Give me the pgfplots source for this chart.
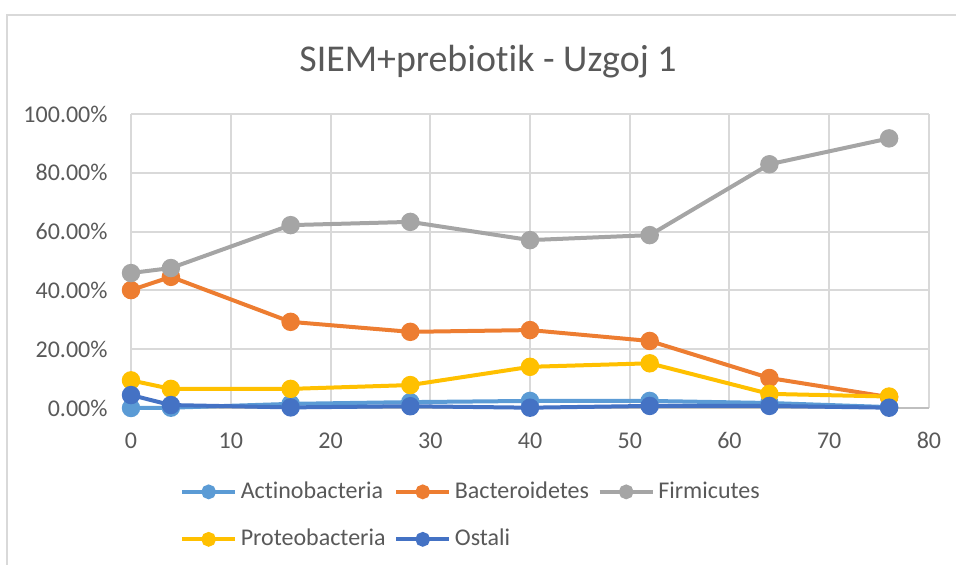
\documentclass[border=0pt]{standalone}
\usepackage{pgfplots}
\usepackage{pgfplotstable}
\pgfplotsset{compat=1.18}
\usepackage{fontspec}
\setmainfont{Carlito}[Ligatures={NoCommon,NoRare,NoDiscretionary}]
\definecolor{actc}{HTML}{5B9BD5}
\definecolor{bacc}{HTML}{ED7D31}
\definecolor{firc}{HTML}{A5A5A5}
\definecolor{proc}{HTML}{FFC000}
\definecolor{ostc}{HTML}{4472C4}
\definecolor{txt}{HTML}{595959}
\definecolor{gridc}{HTML}{D9D9D9}
\definecolor{axc}{HTML}{BFBFBF}

\pgfplotstableread{
x   act  bac   fir   pro   ost
0   0.0  40.1  45.9  9.4   4.4
4   0.1  44.6  47.6  6.5   1.0
16  1.4  29.3  62.2  6.5   0.2
28  2.0  25.9  63.3  7.8   0.6
40  2.4  26.5  57.1  14.0  0.1
52  2.4  22.8  58.8  15.2  0.7
64  1.7  10.2  82.9  4.8   0.7
76  0.3  3.7   91.7  3.9   0.1
}\datatable

\begin{document}
\begin{tikzpicture}
\path[use as bounding box] (0,0) rectangle (358.5pt,211.875pt);
\draw[gridc, line width=0.75pt] (2.625pt,-2pt) -- (2.625pt,206.25pt) -- (362pt,206.25pt);
\node[text=txt, font=\fontsize{14.2}{17}\selectfont] at (183pt,188.625pt) {SIEM+prebiotik - Uzgoj 1};
\begin{axis}[
  at={(49.125pt,58.875pt)}, anchor=south west,
  scale only axis, width=299.25pt, height=110.25pt,
  xmin=0, xmax=80, ymin=0, ymax=100,
  clip=false,
  xtick={0,10,...,80}, ytick={0,20,...,100},
  xticklabels={0,10,20,30,40,50,60,70,80},
  yticklabels={0.00\%,20.00\%,40.00\%,60.00\%,80.00\%,100.00\%},
  major tick length=0pt,
  grid=major,
  major grid style={gridc, line width=0.75pt},
  axis x line*=bottom, axis y line*=left,
  x axis line style={axc, line width=0.75pt, -},
  y axis line style={draw=none},
  tick label style={text=txt, font=\fontsize{9}{11}\selectfont, inner sep=0pt},
  yticklabel style={anchor=east, xshift=-8.6pt},
  xticklabel style={anchor=north, yshift=-9pt},
  every axis plot/.append style={line width=1.5pt, mark=*, mark size=2.7pt},
  legend columns=3,
  legend style={at={(0.0614,-0.366)}, anchor=west, draw=none, fill=none,
    font=\fontsize{9}{11}\selectfont, text=txt,
    inner sep=0pt, outer sep=0pt, row sep=8.8pt,
    nodes={inner xsep=0pt, inner ysep=0pt, text height=7pt, text depth=2pt},
    /tikz/every odd column/.append style={column sep=1.3pt},
    /tikz/every even column/.append style={column sep=3.2pt}},
  legend cell align=left,
  legend image code/.code={\draw[mark repeat=2, mark phase=2, #1, mark size=2pt] plot coordinates {(0pt,0pt) (10pt,0pt) (20pt,0pt)};},
]
\addplot[actc, mark options={fill=actc, draw=actc}] table[x=x, y=act] {\datatable};
\addlegendentry{Actinobacteria}
\addplot[bacc, mark options={fill=bacc, draw=bacc}] table[x=x, y=bac] {\datatable};
\addlegendentry{Bacteroidetes}
\addplot[firc, mark options={fill=firc, draw=firc}] table[x=x, y=fir] {\datatable};
\addlegendentry{Firmicutes}
\addplot[proc, mark options={fill=proc, draw=proc}] table[x=x, y=pro] {\datatable};
\addlegendentry{Proteobacteria}
\addplot[ostc, mark options={fill=ostc, draw=ostc}] table[x=x, y=ost] {\datatable};
\addlegendentry{Ostali}
\end{axis}
\end{tikzpicture}
\end{document}
